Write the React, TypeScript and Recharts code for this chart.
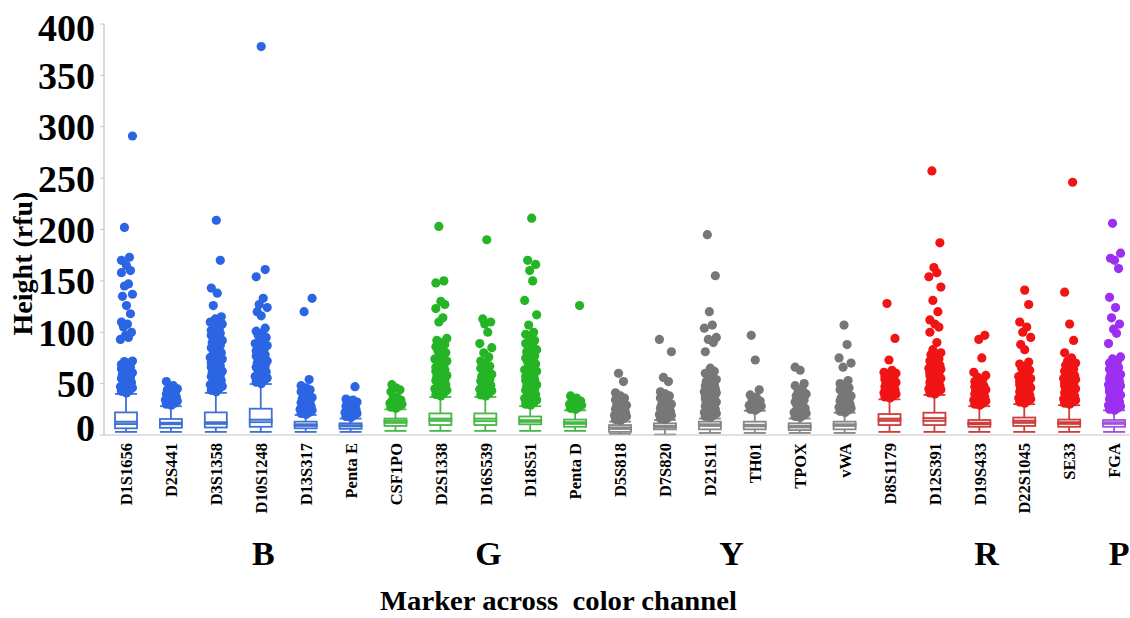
import React from 'react';
import { ComposedChart, Bar, Scatter, XAxis, YAxis, Label } from 'recharts';

// STR markers, in dye-channel order
const markers = [
  'D1S1656', 'D2S441', 'D3S1358', 'D10S1248', 'D13S317', 'Penta E',
  'CSF1PO', 'D2S1338', 'D16S539', 'D18S51', 'Penta D',
  'D5S818', 'D7S820', 'D21S11', 'TH01', 'TPOX', 'vWA',
  'D8S1179', 'D12S391', 'D19S433', 'D22S1045', 'SE33',
  'FGA',
];
const markerChannel = [
  'B', 'B', 'B', 'B', 'B', 'B',
  'G', 'G', 'G', 'G', 'G',
  'Y', 'Y', 'Y', 'Y', 'Y', 'Y',
  'R', 'R', 'R', 'R', 'R',
  'P',
];

// Box statistics (rfu)
const whiskerLow = [3, 3, 3, 3, 3, 3, 4, 4, 4, 4, 4, 1, 0.5, 2, 2, 2, 2, 3, 3, 3, 3, 3, 3];
const quartile1 = [6.5, 7, 7.3, 8, 6.5, 6, 8.8, 9.7, 9.7, 10.4, 8, 3, 5.5, 5.5, 5.5, 4.8, 5.5, 9.7, 9.7, 8, 8.8, 8, 8];
const medians = [10.7, 10.5, 11, 12.5, 9, 8.5, 12, 14, 13.5, 13, 11, 6, 7.5, 9, 8.5, 7.5, 9, 14, 14, 10.5, 12, 11, 11];
const means = [13, 12, 12.5, 15, 10.5, 9.5, 14, 16, 16, 14.5, 12.5, 7.5, 9, 10.5, 10, 9, 10.5, 16, 16.5, 12, 14, 12.5, 12.5];
const quartile3 = [22, 15.6, 22, 25.6, 13, 11.4, 16, 21, 21, 18, 15, 9.7, 11.4, 13, 13, 11.4, 13, 20.4, 21.7, 14.6, 17, 15, 14.6];
const whiskerHigh = [40, 28, 41, 49.6, 19.5, 16, 25, 37, 37, 28, 24, 13, 14.6, 16, 23.6, 16, 21.7, 34.7, 39, 28, 30, 29, 24];

// Outlying peak heights per marker (rfu)
const outliers: number[][] = [
  [41, 42.5, 43, 44.5, 46, 47, 48.5, 50, 51, 52.5, 54, 55, 56.5, 58, 59, 60.5, 62, 63, 64.5, 66, 67, 68.5, 70, 71.5, 72,
    93, 95, 97, 100, 105, 108, 110, 118, 126, 135, 137, 145, 147, 158, 160, 165, 170, 173, 202, 291],
  [29, 30, 31, 32.5, 33, 34, 35.5, 36, 37, 38.5, 39, 40, 41.5, 43, 44, 45, 47, 48, 52],
  [42, 43.5, 45, 46, 47.5, 49, 50, 51.5, 53, 54, 55.5, 57, 58, 59.5, 61, 62, 63.5, 65, 66, 67.5, 69, 70, 71.5, 73, 74,
    75.5, 77, 78, 80, 82, 83.5, 85, 87, 88, 90, 92, 93.5, 95, 97, 99, 100, 102, 104, 106, 108, 110, 111, 113, 115,
    126, 138, 143, 170, 209],
  [50, 51.5, 53, 54, 55.5, 57, 58, 60, 61.5, 63, 64, 66, 67.5, 69, 70, 72, 73.5, 75, 77, 78, 80, 82, 84, 85.5, 87, 89,
    91, 93, 95, 97, 99, 101, 104, 116, 120, 124, 127, 133, 154, 161, 378],
  [20, 21, 22, 23, 24, 25, 26, 27.5, 28, 29, 30, 31.5, 33, 34, 35, 36.5, 38, 40, 42, 44, 46, 48, 54, 120, 133],
  [17, 18, 19, 20, 21, 22, 23, 24, 25, 26, 27, 28, 29, 30, 31, 32, 33, 34, 35, 47],
  [26, 27, 28, 29, 30, 31, 32, 33, 34, 35, 37, 42, 44, 46, 49],
  [38, 39.5, 41, 42, 43.5, 45, 46, 47.5, 49, 50, 51.5, 53, 54, 55.5, 57, 58, 59.5, 61, 62, 63.5, 65, 66, 68, 70, 72, 74,
    76, 78, 80, 82, 84, 86, 88, 90, 92, 94, 110, 114, 123, 127, 130, 148, 150, 203],
  [38, 39, 40.5, 42, 43, 44.5, 46, 47, 48.5, 50, 51, 52.5, 54, 55, 57, 59, 61, 63, 65, 67, 70, 72,
    76, 80, 85, 89, 100, 108, 110, 113, 190],
  [29, 30, 31.5, 33, 34, 35.5, 37, 38, 39.5, 41, 42, 43.5, 45, 46, 47.5, 49, 50, 51.5, 53, 54, 55.5, 57, 58, 60, 62,
    63.5, 65, 67, 69, 71, 73, 75, 77, 79, 81, 83, 85, 87, 89, 92, 95, 98, 100, 107, 117, 131, 150, 160, 166, 170, 211],
  [25, 26, 27, 28, 29, 30, 31, 32, 33, 34, 36, 38, 126],
  [14, 15, 16, 17, 18, 19, 20, 21, 22, 23, 24, 25, 26, 27, 28, 29, 30, 32, 34, 36, 38, 41, 52, 60],
  [15, 16, 17, 18, 19, 20, 21, 22, 23, 24, 25, 26, 27, 28, 29, 30, 32, 34, 36, 38, 40, 42, 52, 56, 81, 93],
  [17, 18, 19, 20, 21, 22, 23, 24, 25, 26, 27, 28, 29, 30, 31, 32, 33, 34, 35, 36, 37, 38, 39, 40, 41, 42, 43, 44, 45,
    46, 47, 48, 49, 50, 52, 54, 56, 58, 60, 62, 65, 81, 90, 93, 95, 104, 107, 120, 155, 195],
  [24, 25, 26, 27, 28, 29, 30, 31, 33, 35, 37, 39, 44, 73, 97],
  [17, 18, 19, 20, 21, 22, 23, 24, 26, 28, 30, 32, 34, 36, 38, 40, 42, 45, 48, 50, 63, 66],
  [22, 23, 24, 25, 26, 27, 28, 29, 30, 31, 32, 33, 34, 35, 36, 38, 40, 42, 44, 46, 48, 50, 53, 66, 70, 75, 88, 107],
  [36, 37, 38, 39, 40, 41, 42, 43, 44, 45, 46, 47, 48, 49, 50, 51, 52, 53, 54, 55, 56, 57, 58, 59, 60, 61, 63, 73, 94, 128],
  [40, 41, 42, 43, 44, 45, 46, 47, 48, 49, 50, 51, 52, 53, 54, 55, 56, 57, 58, 59, 60, 61, 62, 63, 64, 65, 66, 67, 68,
    69, 70, 72, 74, 76, 78, 80, 83, 90, 100, 105, 108, 112, 120, 131, 144, 154, 158, 163, 187, 257],
  [29, 30, 31, 32, 33, 34, 35, 36, 37, 38, 39, 40, 41, 42, 43, 44, 45, 46, 47, 48, 50, 52, 54, 56, 58, 61, 75, 93, 97],
  [31, 32, 33, 34, 35, 36, 37, 38, 39, 40, 41, 42, 43, 44, 45, 46, 47, 48, 49, 50, 51, 52, 53, 54, 55, 57, 59, 61, 63,
    65, 67, 69, 71, 83, 88, 95, 100, 105, 110, 127, 141],
  [30, 31, 32, 33, 34, 35, 36, 37, 38, 39, 40, 41, 42, 43, 44, 45, 46, 47, 48, 49, 50, 51, 52, 53, 54, 55, 56, 57, 58,
    59, 60, 62, 64, 66, 68, 70, 72, 75, 80, 92, 108, 139, 246],
  [24, 25, 26, 27, 28, 29, 30, 31, 32, 33, 34, 35, 36, 37, 38, 39, 40, 41, 42, 43, 44, 45, 46, 47, 48, 49, 50, 51, 52,
    53, 54, 55, 56, 57, 58, 59, 60, 62, 64, 66, 68, 70, 72, 74, 76, 89, 99, 103, 108, 114, 124, 134, 162, 170, 172,
    177, 206],
];

const channels = ['B', 'G', 'Y', 'R', 'P'];
const channelTickPos = [3.05, 8.06, 13.47, 19.15, 22.1];
const yTicks = [0, 50, 100, 150, 200, 250, 300, 350, 400];

const dotColor: Record<string, string> = {
  B: '#2b65e3', G: '#25b425', Y: '#777777', R: '#f01414', P: '#9c2ff0',
};
const boxColor: Record<string, string> = {
  B: '#3f71d3', G: '#46b846', Y: '#878787', R: '#cf3d3d', P: '#a052e0',
};

const FONT = "'Liberation Serif', 'Times New Roman', serif";
const JITTER = [0, -5, 3, -2, 6, -6, 2, -1, 5, -3, 1, -5, 4, 0, -4, 6, -2, 2, -5, 4];
const LINE_W = 1.8;

const boxRows = markers.map((name, i) => ({
  name,
  x: i,
  ch: markerChannel[i],
  base: whiskerLow[i],
  lowW: quartile1[i] - whiskerLow[i],
  boxA: medians[i] - quartile1[i],
  boxB: means[i] - medians[i],
  boxC: quartile3[i] - means[i],
  highW: whiskerHigh[i] - quartile3[i],
}));

const pointsByChannel = channels.map((ch) => {
  const pts: { x: number; y: number; j: number }[] = [];
  markers.forEach((_, i) => {
    if (markerChannel[i] !== ch) return;
    outliers[i].forEach((v, j) => pts.push({ x: i, y: v, j }));
  });
  return pts;
});

const Empty = () => <g />;

const LowWhiskerShape = (p: any) => {
  const c = boxColor[p.payload.ch];
  const cx = p.x + p.width / 2;
  const yb = p.y + p.height;
  return (
    <g>
      <line x1={cx} x2={cx} y1={p.y} y2={yb} stroke={c} strokeWidth={LINE_W} />
      <line x1={p.x} x2={p.x + p.width} y1={yb} y2={yb} stroke={c} strokeWidth={LINE_W} />
    </g>
  );
};

const HighWhiskerShape = (p: any) => {
  const c = boxColor[p.payload.ch];
  const cx = p.x + p.width / 2;
  return (
    <g>
      <line x1={cx} x2={cx} y1={p.y} y2={p.y + p.height} stroke={c} strokeWidth={LINE_W} />
      <line x1={p.x} x2={p.x + p.width} y1={p.y} y2={p.y} stroke={c} strokeWidth={LINE_W} />
    </g>
  );
};

const BoxShape = (p: any) => {
  const c = boxColor[p.payload.ch];
  return (
    <rect x={p.x} y={p.y} width={p.width} height={Math.max(p.height, 0)}
      fill="#ffffff" stroke={c} strokeWidth={LINE_W} />
  );
};

const makeDot = (color: string) => (p: any) => (
  <circle cx={p.cx + JITTER[p.payload.j % JITTER.length]} cy={p.cy} r={4.6} fill={color} />
);

const YTick = (p: any) => {
  const v = p.payload.value;
  const shift = v === 400 ? 4 : v === 0 ? -7 : 0;
  return (
    <text x={p.x} y={p.y + shift} dy="0.355em" textAnchor="end" fontFamily={FONT}
      fontWeight={700} fontSize={38} fill="#000">
      {v}
    </text>
  );
};

const MarkerTick = (p: any) => (
  <text x={p.x} y={p.y} dy="0.35em" textAnchor="end" transform={`rotate(-90, ${p.x}, ${p.y})`}
    fontFamily={FONT} fontWeight={700} fontSize={16.5} fill="#000">
    {p.payload.value != null ? markers[p.index] : ''}
  </text>
);

const ChannelTick = (p: any) => (
  <text x={p.x} y={p.y + 45} textAnchor="middle" fontFamily={FONT} fontWeight={700}
    fontSize={34} fill="#000">
    {channels[p.index]}
  </text>
);

const YTitle = (p: any) => {
  const vb = p.viewBox;
  const x = vb.x + 32;
  const y = vb.y + 239.5;
  return (
    <text x={x} y={y} textAnchor="middle" transform={`rotate(-90, ${x}, ${y})`}
      fontFamily={FONT} fontWeight={700} fontSize={28} fill="#000">
      Height (rfu)
    </text>
  );
};

const XTitle = (p: any) => {
  const vb = p.viewBox;
  return (
    <text x={vb.x + 276} y={vb.y + 90} textAnchor="start" fontFamily={FONT} fontWeight={700}
      fontSize={27.5} fill="#000" textLength={357} lengthAdjust="spacingAndGlyphs"
      style={{ whiteSpace: 'pre' }}>
      {'Marker across  color channel'}
    </text>
  );
};

export default function App() {
  return (
    <div style={{ position: 'absolute', left: 0, top: 0, width: 1130, height: 618, overflow: 'hidden', background: '#fff' }}>
      <ComposedChart width={1140} height={618} data={boxRows}
        margin={{ top: 24, right: 3, left: 0, bottom: 0 }}>
        <XAxis xAxisId="cat" dataKey="name" type="category" interval={0} height={85}
          tickLine={false} tickSize={0} tickMargin={8} axisLine={{ stroke: '#c4c4c4', strokeWidth: 1.2 }}
          tick={<MarkerTick />} />
        <XAxis xAxisId="ch" type="number" dataKey="x" domain={[-0.5, 22.5]} allowDataOverflow
          ticks={channelTickPos} interval={0} height={98} axisLine={false} tickLine={false}
          tickSize={0} tickMargin={0} tick={<ChannelTick />}>
          <Label content={<XTitle />} />
        </XAxis>
        <XAxis xAxisId="num" type="number" dataKey="x" domain={[-0.5, 22.5]} allowDataOverflow hide />
        <YAxis type="number" domain={[0, 400]} ticks={yTicks} interval={0} width={104}
          tickSize={4} tickMargin={5} axisLine={{ stroke: '#c4c4c4', strokeWidth: 1.2 }}
          tickLine={{ stroke: '#c4c4c4' }} tick={<YTick />}>
          <Label content={<YTitle />} />
        </YAxis>

        <Bar xAxisId="cat" dataKey="base" stackId="box" barSize={22} shape={<Empty />} isAnimationActive={false} />
        <Bar xAxisId="cat" dataKey="lowW" stackId="box" barSize={22} shape={<LowWhiskerShape />} isAnimationActive={false} />
        <Bar xAxisId="cat" dataKey="boxA" stackId="box" barSize={22} shape={<BoxShape />} isAnimationActive={false} />
        <Bar xAxisId="cat" dataKey="boxB" stackId="box" barSize={22} shape={<BoxShape />} isAnimationActive={false} />
        <Bar xAxisId="cat" dataKey="boxC" stackId="box" barSize={22} shape={<BoxShape />} isAnimationActive={false} />
        <Bar xAxisId="cat" dataKey="highW" stackId="box" barSize={22} shape={<HighWhiskerShape />} isAnimationActive={false} />

        {channels.map((ch, k) => (
          <Scatter key={ch} name={ch} xAxisId="num" data={pointsByChannel[k]} dataKey="y"
            shape={makeDot(dotColor[ch])} isAnimationActive={false} />
        ))}
      </ComposedChart>
    </div>
  );
}
